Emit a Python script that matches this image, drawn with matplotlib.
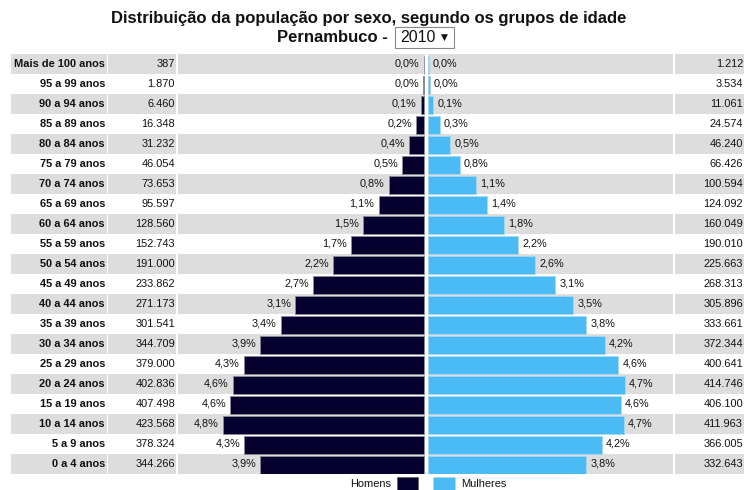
import matplotlib
matplotlib.use("Agg")
import matplotlib.pyplot as plt
from matplotlib.patches import Rectangle

# ---------------- data ----------------
age_groups = ["Mais de 100 anos", "95 a 99 anos", "90 a 94 anos", "85 a 89 anos",
              "80 a 84 anos", "75 a 79 anos", "70 a 74 anos", "65 a 69 anos",
              "60 a 64 anos", "55 a 59 anos", "50 a 54 anos", "45 a 49 anos",
              "40 a 44 anos", "35 a 39 anos", "30 a 34 anos", "25 a 29 anos",
              "20 a 24 anos", "15 a 19 anos", "10 a 14 anos", "5 a 9 anos",
              "0 a 4 anos"]
homens = [387, 1870, 6460, 16348, 31232, 46054, 73653, 95597, 128560, 152743,
          191000, 233862, 271173, 301541, 344709, 379000, 402836, 407498,
          423568, 378324, 344266]
mulheres = [1212, 3534, 11061, 24574, 46240, 66426, 100594, 124092, 160049,
            190010, 225663, 268313, 305896, 333661, 372344, 400641, 414746,
            406100, 411963, 366005, 332643]
title_line1 = "Distribuição da população por sexo, segundo os grupos de idade"
title_region = "Pernambuco - "
year = "2010"

# ---------------- style ----------------
W, H = 748, 490
C_MEN = "#06002e"
C_WOMEN = "#4bbbf5"
C_GREY = "#dddddd"
FONT = ["Liberation Sans", "DejaVu Sans"]
NARROW = ["Liberation Sans Narrow", "Liberation Sans", "DejaVu Sans"]
plt.rcParams["font.family"] = FONT

n = len(age_groups)
total = sum(homens) + sum(mulheres)


def fmt_int(v):
    return f"{v:,}".replace(",", ".")


def fmt_pct(v):
    return f"{v / total * 100:.1f}%".replace(".", ",")


fig = plt.figure(figsize=(W / 100, H / 100), dpi=100)
fig.patch.set_facecolor("white")

top_px, bot_px = 54, 474
y0 = (H - bot_px) / H
hh = (bot_px - top_px) / H

# background/table axes: x in pixels, y in rows
bg = fig.add_axes([0, y0, 1, hh])
bg.set_xlim(0, W)
bg.set_ylim(n - 0.5, -0.5)
bg.axis("off")

cols = [(11, 107), (108, 176), (178, 673), (675, 744)]
for i in range(n):
    if i % 2 == 0:
        for (a, b) in cols:
            bg.add_patch(Rectangle((a, i - 0.5), b - a, 1.0, facecolor=C_GREY,
                                   edgecolor="none"))
    bg.text(105, i, age_groups[i], ha="right", va="center", fontsize=7.9,
            fontweight="bold", color="#111111")
    bg.text(175, i, fmt_int(homens[i]), ha="right", va="center", fontsize=7.9,
            color="#111111")
    bg.text(743, i, fmt_int(mulheres[i]), ha="right", va="center", fontsize=7.9,
            color="#111111")

# bars axes
ax_l, ax_r = 178, 673
ax = fig.add_axes([ax_l / W, y0, (ax_r - ax_l) / W, hh])
ax.patch.set_alpha(0)
scale = 0.000475  # px per person
center_px = 426
xmin = -(center_px - ax_l) / scale
xmax = (ax_r - center_px) / scale
ax.set_xlim(xmin, xmax)
ax.set_ylim(n - 0.5, -0.5)
ax.axis("off")
gap = 2 / scale
ys = [i + 0.05 for i in range(n)]
ax.barh(ys, [-v for v in homens], left=-gap, height=0.86, color=C_MEN,
        edgecolor="#8a8a9a", linewidth=0.6)
ax.barh(ys, mulheres, left=gap, height=0.86, color=C_WOMEN,
        edgecolor="#a8d8f0", linewidth=0.6)
ax.axvline(0, color="white", lw=2)

for i in range(n):
    ax.annotate(fmt_pct(homens[i]), xy=(-(homens[i] + gap), i), xytext=(-3, 0),
                textcoords="offset points", ha="right", va="center",
                fontsize=7.8, color="#111111")
    ax.annotate(fmt_pct(mulheres[i]), xy=(mulheres[i] + gap, i), xytext=(3, 0),
                textcoords="offset points", ha="left", va="center",
                fontsize=7.8, color="#111111")

# title
fig.text(369 / W, 1 - 18 / H, title_line1, ha="center", va="center",
         fontsize=12, fontweight="bold", family=NARROW, color="#111111")
fig.text(392 / W, 1 - 38 / H, title_region, ha="right", va="center",
         fontsize=12, fontweight="bold", family=NARROW, color="#111111")
fig.add_artist(Rectangle((395 / W, 1 - 48 / H), 59 / W, 21 / H,
                         transform=fig.transFigure, facecolor="white",
                         edgecolor="#888888", linewidth=0.8))
fig.text(400 / W, 1 - 38 / H, year, ha="left", va="center", fontsize=11.5,
         family=NARROW, color="#111111")
fig.text(444 / W, 1 - 37 / H, "▼", ha="center", va="center", fontsize=6.5,
         family=["DejaVu Sans"], color="#111111")

# legend
fig.add_artist(Rectangle((397 / W, 0), 21 / W, 13 / H, transform=fig.transFigure,
                         facecolor=C_MEN, edgecolor="#666666", linewidth=0.6))
fig.add_artist(Rectangle((433 / W, 0), 22 / W, 13 / H, transform=fig.transFigure,
                         facecolor=C_WOMEN, edgecolor="#a8d8f0", linewidth=0.6))
fig.text(391 / W, 1 - 484 / H, "Homens", ha="right", va="center", fontsize=7.9,
         color="#111111")
fig.text(461 / W, 1 - 484 / H, "Mulheres", ha="left", va="center", fontsize=7.9,
         color="#111111")

fig.savefig("out.png", dpi=100, facecolor="white")
